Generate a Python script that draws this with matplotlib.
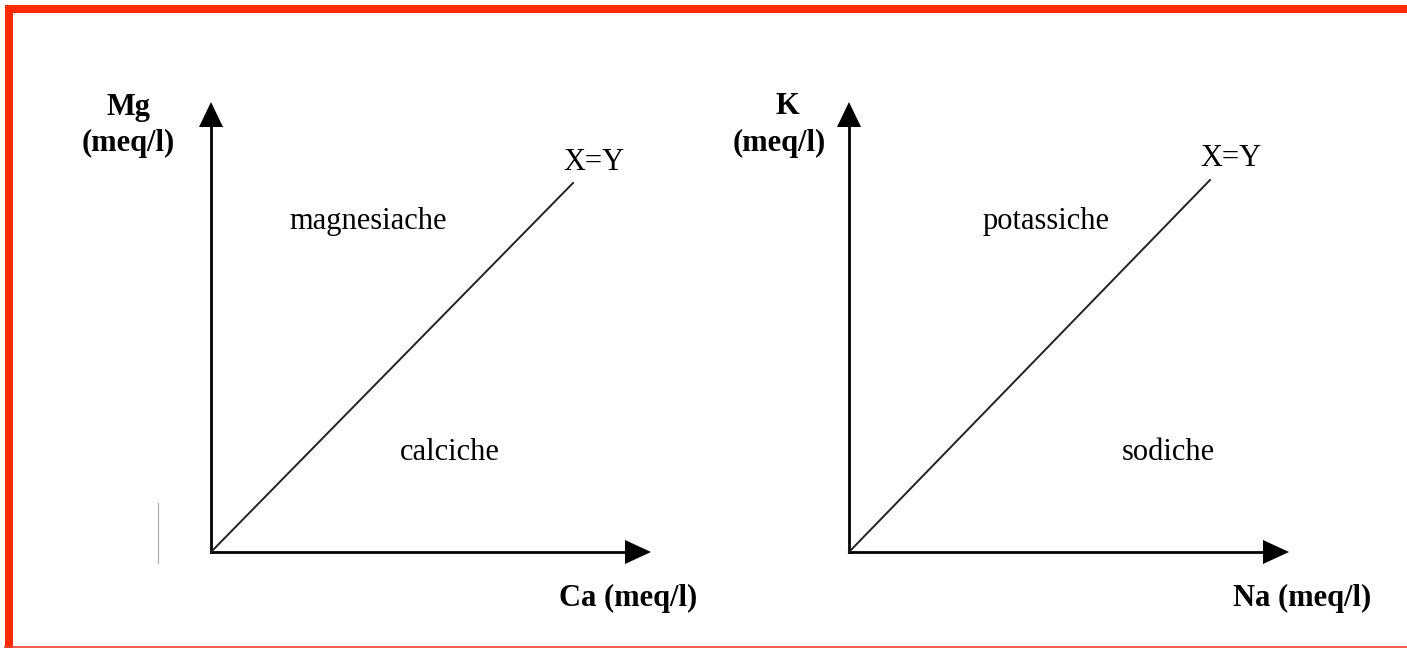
import matplotlib
matplotlib.use("Agg")
import matplotlib.pyplot as plt

# labels of the two classification diagrams
x_labels = ["Ca (meq/l)", "Na (meq/l)"]
y_labels = [["Mg", "(meq/l)"], ["K", "(meq/l)"]]
upper_labels = ["magnesiache", "potassiche"]
lower_labels = ["calciche", "sodiche"]
line_label = "X=Y"

plt.rcParams["font.family"] = ["Liberation Serif", "DejaVu Serif"]

W, H = 1407, 648
fig = plt.figure(figsize=(W / 100, H / 100), dpi=100)
ax = fig.add_axes([0, 0, 1, 1])
ax.set_xlim(0, W)
ax.set_ylim(H, 0)
ax.axis("off")

# red frame
red = "#ff2a00"
ax.add_patch(plt.Rectangle((5, 5), W, 8, color=red, lw=0))
ax.add_patch(plt.Rectangle((5, 5), 8, H, color=red, lw=0))
ax.plot([5, W], [647, 647], color="#f04030", lw=1.2)

# small stray grey mark
ax.plot([158, 158], [503, 563], color="#aaaaaa", lw=0.8)

origins = [(211, 552), (849, 552)]
x_len = 414
y_len = 425
diag = [(362, 369), (361, 372)]
# label offsets from each origin
xlab_dx = [417, 453]
ylab_dx = [[-83, -83], [-62, -70]]
upper_dx = [157, 197]
lower_dx = [239, 319]
fs = 22

for i, (ox, oy) in enumerate(origins):
    # axes with arrowheads
    ax.plot([ox, ox + x_len], [oy, oy], color="black", lw=2)
    ax.plot([ox, ox], [oy, oy - y_len], color="black", lw=2)
    ax.fill([ox + x_len, ox + x_len + 26, ox + x_len],
            [oy - 12, oy, oy + 12], color="black", lw=0)
    ax.fill([ox - 12, ox, ox + 12],
            [oy - y_len, oy - y_len - 25, oy - y_len], color="black", lw=0)
    # X=Y line
    dx, dy = diag[i]
    ax.plot([ox, ox + dx], [oy, oy - dy], color="#222222", lw=1.4)
    ax.text(ox + dx + 21, oy - dy - 21, line_label, fontsize=fs,
            ha="center", va="center")
    # axis labels
    ax.text(ox + xlab_dx[i], 598, x_labels[i], fontsize=fs, fontweight="bold",
            ha="center", va="center")
    ax.text(ox + ylab_dx[i][0], 107, y_labels[i][0], fontsize=fs,
            fontweight="bold", ha="center", va="center")
    ax.text(ox + ylab_dx[i][1], 143, y_labels[i][1], fontsize=fs,
            fontweight="bold", ha="center", va="center")
    # region labels
    ax.text(ox + upper_dx[i], 222, upper_labels[i], fontsize=fs,
            ha="center", va="center")
    ax.text(ox + lower_dx[i], 452, lower_labels[i], fontsize=fs,
            ha="center", va="center")

fig.savefig("out.png", dpi=100)
